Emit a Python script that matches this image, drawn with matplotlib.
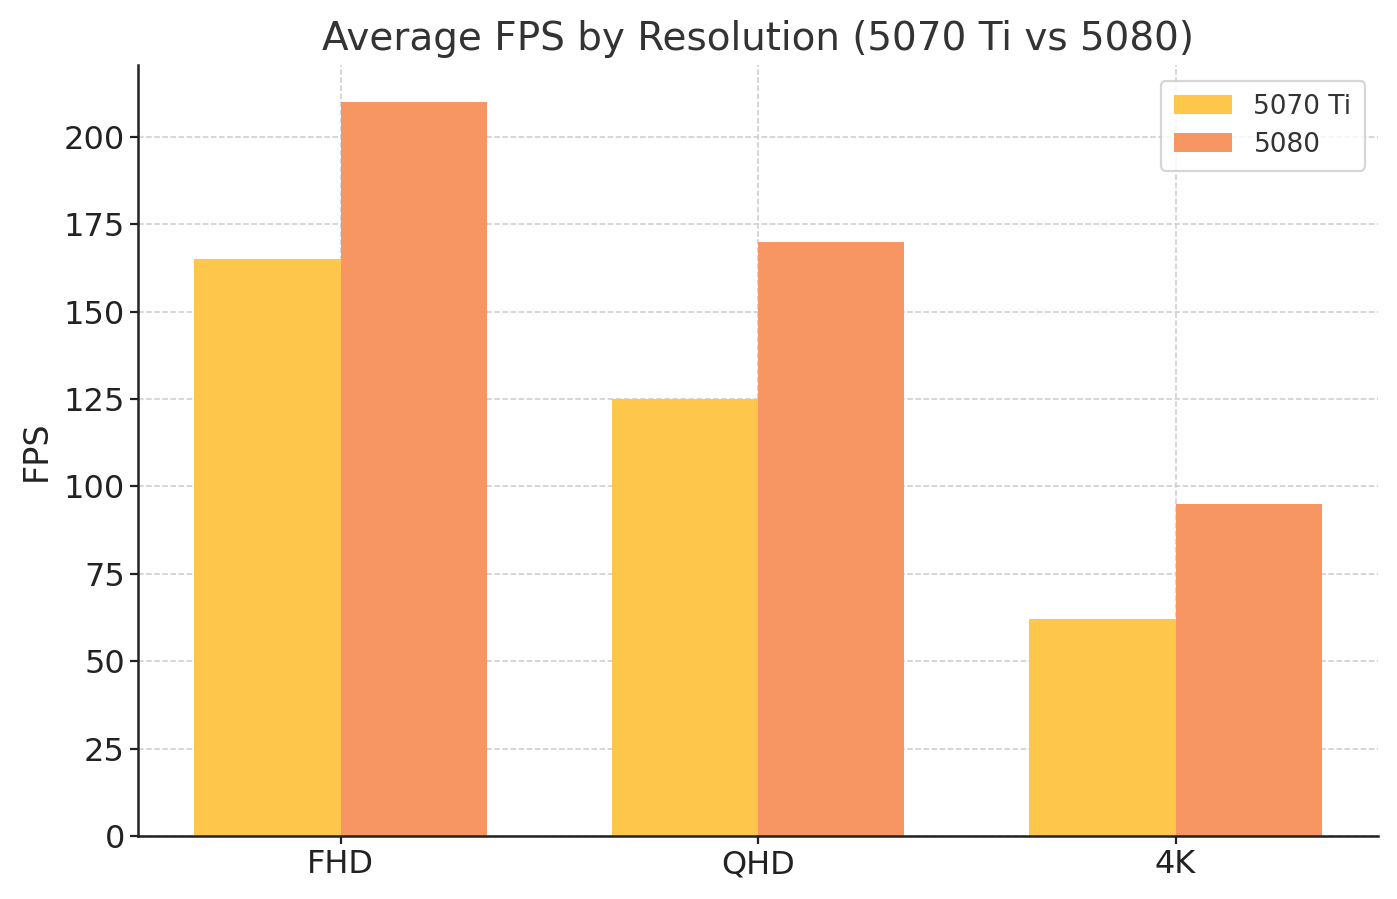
import numpy as np
from matplotlib import pyplot as plt

resolutions = ["FHD", "QHD", "4K"]
fps_5070ti = [165, 125, 62]
fps_5080 = [210, 170, 95]
series_names = ["5070 Ti", "5080"]

x = np.arange(len(resolutions))
width = 0.35

fig = plt.figure(figsize=(13.97, 8.99), dpi=100)
ax = fig.add_axes([0.0988, 0.0701, 0.8876, 0.8576])

ax.bar(x - width / 2, fps_5070ti, width, color="#FFC64C", label=series_names[0], zorder=2)
ax.bar(x + width / 2, fps_5080, width, color="#F79663", label=series_names[1], zorder=2)

ax.set_xticks(x)
ax.set_xticklabels(resolutions)
ax.set_ylabel("FPS", fontsize=24, color="#222222", labelpad=8)
ax.set_title("Average FPS by Resolution (5070 Ti vs 5080)", fontsize=28, color="#333333", pad=11)

ax.tick_params(axis="both", labelsize=23, labelcolor="#222222", width=1.6, length=6, color="#222222")
ax.grid(True, linestyle="--", color="#cccccc", linewidth=1.1, zorder=0)
ax.set_axisbelow(True)
for s in ["top", "right"]:
    ax.spines[s].set_visible(False)
for s in ["left", "bottom"]:
    ax.spines[s].set_linewidth(1.8)
    ax.spines[s].set_color("#222222")

leg = ax.legend(loc="upper right", fontsize=19, frameon=True, borderpad=0.5,
                handlelength=2.2, labelspacing=0.45, bbox_to_anchor=(1.0, 0.997))
leg.get_frame().set_edgecolor("#cccccc")
leg.get_frame().set_linewidth(1.6)
for t in leg.get_texts():
    t.set_color("#333333")

fig.savefig("out.png", dpi=100)
